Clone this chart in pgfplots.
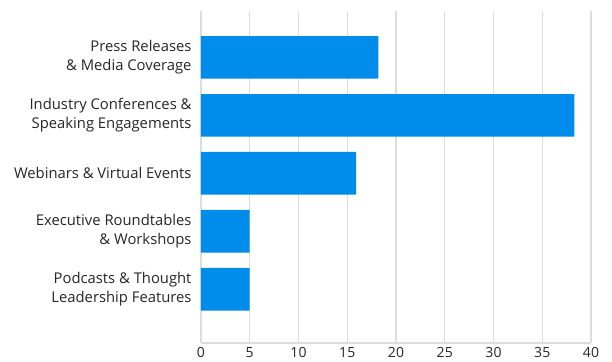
\documentclass[border=0pt]{standalone}
\usepackage{pgfplots}
\pgfplotsset{compat=1.18}
\usepackage{fontspec}
\setmainfont{Open Sans}
\definecolor{barblue}{RGB}{0,140,234}
\definecolor{gridgray}{RGB}{221,221,221}
\begin{document}
\begin{tikzpicture}[x=1bp,y=1bp]
\begin{axis}[
  scale only axis,
  width=390bp, height=332bp,
  xbar, bar width=42.7bp,
  xmin=0, xmax=40,
  ymin=-0.926, ymax=4.8,
  xtick={0,5,...,40},
  ytick={0,1,2,3,4},
  yticklabels={{Podcasts \& Thought\\Leadership Features},{Executive Roundtables\\\& Workshops},{Webinars \& Virtual Events},{Industry Conferences \&\\Speaking Engagements},{Press Releases\\\& Media Coverage}},
  yticklabel style={align=right, font=\fontsize{14.8bp}{18.7bp}\selectfont, text=black!85, xshift=-6bp},
  xticklabel style={font=\fontsize{14bp}{16bp}\selectfont, text=black!85, yshift=-1bp},
  /pgf/number format/assume math mode=true,
  major tick length=0pt,
  xmajorgrids, grid style={gridgray, line width=1.2bp},
  axis x line*=bottom, axis y line*=left,
  x axis line style={gridgray, line width=1.2bp, -},
  y axis line style={draw=none},
]
\addplot[fill=barblue, draw=none] coordinates {(5.0,0) (5.0,1) (15.9,2) (38.3,3) (18.2,4)};
\end{axis}
\path ([shift={(-201bp,-19bp)}]current axis.south west) rectangle ([shift={(21bp,11bp)}]current axis.north east);
\end{tikzpicture}
\end{document}
